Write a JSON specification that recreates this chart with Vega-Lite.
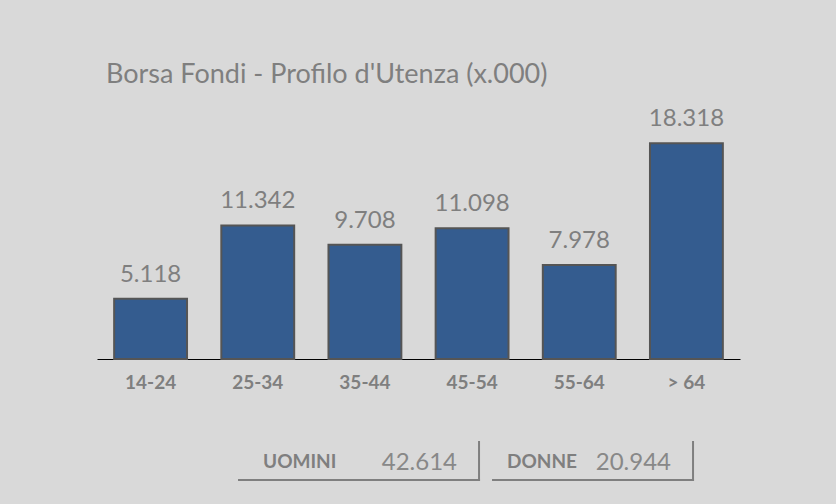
{
  "$schema": "https://vega.github.io/schema/vega-lite/v6.json",
  "width": 643,
  "height": 259,
  "autosize": "none",
  "padding": {"left": 97, "top": 100, "right": 96, "bottom": 145},
  "background": "#d9d9d9",
  "config": {
    "view": {"stroke": null},
    "font": "Lato",
    "locale": {"number": {"decimal": ",", "thousands": ".", "grouping": [3], "currency": ["€", ""]}}
  },
  "title": {
    "text": "Borsa Fondi - Profilo d'Utenza (x.000)",
    "anchor": "start",
    "frame": "group",
    "fontSize": 27,
    "fontWeight": "normal",
    "color": "#7f7f7f",
    "font": "Lato",
    "dx": 9,
    "dy": 27,
    "offset": 17,
    "baseline": "alphabetic"
  },
  "layer": [
    {
      "data": {"values": [
        {"age": "14-24", "value": 5118},
        {"age": "25-34", "value": 11342},
        {"age": "35-44", "value": 9708},
        {"age": "45-54", "value": 11098},
        {"age": "55-64", "value": 7978},
        {"age": "> 64", "value": 18318}
      ]},
      "encoding": {
        "x": {
          "field": "age", "type": "nominal", "sort": null,
          "scale": {"paddingInner": 0.32, "paddingOuter": 0.16},
          "axis": {
            "title": null, "labelAngle": 0, "ticks": false,
            "domain": true, "domainColor": "#000000", "domainWidth": 1,
            "labelFontSize": 19, "labelFontWeight": "bold", "labelColor": "#7f7f7f",
            "labelFont": "Lato", "labelPadding": 14
          }
        },
        "y": {"field": "value", "type": "quantitative", "scale": {"domain": [0, 22000], "nice": false}, "axis": null}
      },
      "layer": [
        {"mark": {"type": "bar", "fill": "#345c8f", "stroke": "#555555", "strokeWidth": 2}},
        {
          "mark": {"type": "text", "dy": -17, "baseline": "alphabetic", "fontSize": 24, "fill": "#7f7f7f", "font": "Lato"},
          "encoding": {"text": {"field": "value", "type": "quantitative", "format": ",.0f"}}
        }
      ]
    },
    {
      "data": {"values": [
        {"gender": "UOMINI", "total": 42614},
        {"gender": "DONNE", "total": 20944}
      ]},
      "layer": [
        {
          "transform": [{"filter": "datum.gender === 'UOMINI'"}],
          "mark": {"type": "rule", "stroke": "#7f7f7f", "strokeWidth": 2, "xOffset": -40, "x2Offset": 1, "yOffset": 121},
          "encoding": {
            "x": {"field": "gender", "type": "nominal", "sort": null, "bandPosition": 0, "scale": {"domain": ["UOMINI", "DONNE"], "paddingInner": 0.0607, "paddingOuter": 0.5327, "align": 0.794}, "axis": null},
            "x2": {"field": "gender", "bandPosition": 1},
            "y": {"value": "height"}
          }
        },
        {
          "transform": [{"filter": "datum.gender === 'DONNE'"}],
          "mark": {"type": "rule", "stroke": "#7f7f7f", "strokeWidth": 2, "x2Offset": 1, "yOffset": 121},
          "encoding": {
            "x": {"field": "gender", "type": "nominal", "sort": null, "bandPosition": 0, "scale": {"domain": ["UOMINI", "DONNE"], "paddingInner": 0.0607, "paddingOuter": 0.5327, "align": 0.794}, "axis": null},
            "x2": {"field": "gender", "bandPosition": 1},
            "y": {"value": "height"}
          }
        },
        {
          "mark": {"type": "rule", "stroke": "#7f7f7f", "strokeWidth": 2, "yOffset": 82, "y2Offset": 122},
          "encoding": {
            "x": {"field": "gender", "type": "nominal", "sort": null, "bandPosition": 1, "scale": {"domain": ["UOMINI", "DONNE"], "paddingInner": 0.0607, "paddingOuter": 0.5327, "align": 0.794}, "axis": null},
            "y": {"value": "height"},
            "y2": {"value": "height"}
          }
        },
        {
          "transform": [{"filter": "datum.gender === 'UOMINI'"}],
          "mark": {"type": "text", "align": "left", "baseline": "alphabetic", "dx": -15, "yOffset": 109, "fontSize": 19, "fontWeight": "bold", "fill": "#7f7f7f", "font": "Lato"},
          "encoding": {
            "x": {"field": "gender", "type": "nominal", "sort": null, "bandPosition": 0, "scale": {"domain": ["UOMINI", "DONNE"], "paddingInner": 0.0607, "paddingOuter": 0.5327, "align": 0.794}, "axis": null},
            "y": {"value": "height"},
            "text": {"field": "gender"}
          }
        },
        {
          "transform": [{"filter": "datum.gender === 'DONNE'"}],
          "mark": {"type": "text", "align": "left", "baseline": "alphabetic", "dx": 15, "yOffset": 109, "fontSize": 19, "fontWeight": "bold", "fill": "#7f7f7f", "font": "Lato"},
          "encoding": {
            "x": {"field": "gender", "type": "nominal", "sort": null, "bandPosition": 0, "scale": {"domain": ["UOMINI", "DONNE"], "paddingInner": 0.0607, "paddingOuter": 0.5327, "align": 0.794}, "axis": null},
            "y": {"value": "height"},
            "text": {"field": "gender"}
          }
        },
        {
          "mark": {"type": "text", "align": "right", "baseline": "alphabetic", "dx": -22, "yOffset": 111, "fontSize": 24, "fill": "#888888", "font": "Lato"},
          "encoding": {
            "x": {"field": "gender", "type": "nominal", "sort": null, "bandPosition": 1, "scale": {"domain": ["UOMINI", "DONNE"], "paddingInner": 0.0607, "paddingOuter": 0.5327, "align": 0.794}, "axis": null},
            "y": {"value": "height"},
            "text": {"field": "total", "type": "quantitative", "format": ",.0f"}
          }
        }
      ]
    }
  ],
  "resolve": {"scale": {"x": "independent"}}
}
